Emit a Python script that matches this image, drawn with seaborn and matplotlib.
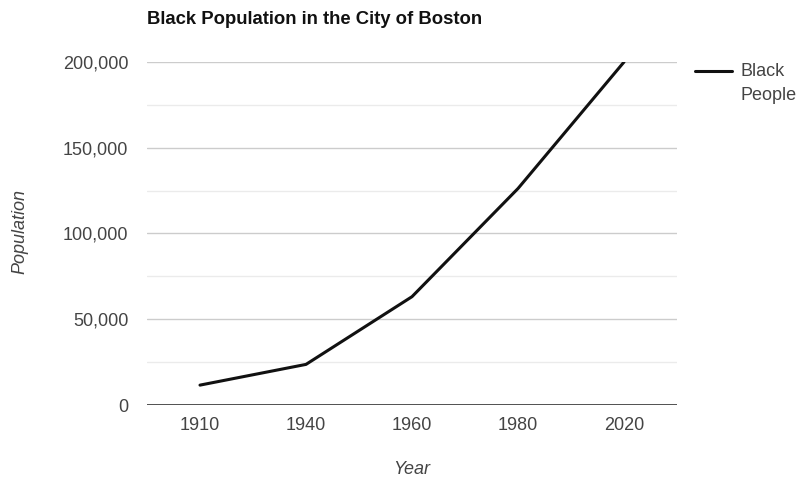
import matplotlib
matplotlib.use("Agg")
import matplotlib.pyplot as plt
import seaborn as sns
import pandas as pd

years = ["1910", "1940", "1960", "1980", "2020"]
black_people = [11591, 23679, 63165, 126229, 200000]
y_ticks = [0, 50000, 100000, 150000, 200000]
y_tick_labels = ["0", "50,000", "100,000", "150,000", "200,000"]

df = pd.DataFrame({"Year": years, "Population": black_people})
df["pos"] = range(len(years))

sns.set_theme(style="white")
plt.rcParams['font.family'] = ['Liberation Sans', 'DejaVu Sans']

fig = plt.figure(figsize=(8.09, 4.79), dpi=100)
ax = fig.add_axes([147/809, 74/479, 530/809, 343/479])

# grid lines
for v in range(25000, 200001, 25000):
    major = v % 50000 == 0
    ax.axhline(v, color="#cccccc" if major else "#ebebeb", lw=1, zorder=0)

sns.lineplot(data=df, x="pos", y="Population", ax=ax, color="#111111", lw=2.2,
             label="Black\nPeople", legend=False, zorder=3)
ax.axhline(0, color="#333333", lw=1.2, zorder=2)

ax.set_xlim(-0.5, len(years) - 0.5)
ax.set_ylim(0, 200000)
ax.set_xticks(range(len(years)))
ax.set_xticklabels(years)
ax.set_yticks(y_ticks)
ax.set_yticklabels(y_tick_labels)
ax.tick_params(axis="both", length=0, labelsize=13, colors="#444444")
ax.tick_params(axis="y", pad=13.5)
ax.tick_params(axis="x", pad=9)
for s in ax.spines.values():
    s.set_visible(False)
ax.set_xlabel("")
ax.set_ylabel("")

fig.text(412/809, 1 - 470/479, "Year", fontsize=13, style="italic", color="#444444",
         ha="center", va="center")
fig.text(20/809, 1 - 232/479, "Population", fontsize=13, style="italic", color="#444444",
         ha="center", va="center", rotation=90)

fig.text(147/809, 1 - 20/479, "Black Population in the City of Boston", fontsize=13.3,
         fontweight="bold", color="#111111", va="center", ha="left")

# legend
fig.add_artist(plt.Line2D([695/809, 732/809], [1 - 71/479, 1 - 71/479], color="#111111", lw=2.2))
fig.text(740/809, 1 - 71/479, "Black", fontsize=13, color="#444444", va="center", ha="left")
fig.text(740/809, 1 - 95/479, "People", fontsize=13, color="#444444", va="center", ha="left")

fig.savefig("out.png", dpi=100)
